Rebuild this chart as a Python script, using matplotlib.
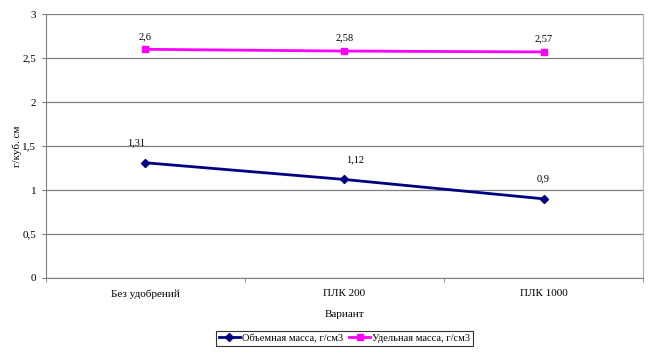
import matplotlib.pyplot as plt
import numpy as np

categories = ["Без удобрений", "ПЛК 200", "ПЛК 1000"]
bulk_mass = [1.31, 1.12, 0.9]
specific_mass = [2.6, 2.58, 2.57]
bulk_labels = ["1,31", "1,12", "0,9"]
specific_labels = ["2,6", "2,58", "2,57"]
yticks = [0, 0.5, 1, 1.5, 2, 2.5, 3]
ytick_labels = ["0", "0,5", "1", "1,5", "2", "2,5", "3"]

plt.rcParams['font.family'] = ['Liberation Serif', 'DejaVu Serif']
plt.rcParams['font.size'] = 8

fig = plt.figure(figsize=(6.57, 3.53), dpi=100)
ax = fig.add_axes([0.070, 0.2125, 0.9087, 0.7475])

x = np.arange(len(categories))
ax.plot(x, bulk_mass, color='#000080', marker='D', markersize=4, lw=2,
        label="Объемная масса, г/см3")
ax.plot(x, specific_mass, color='#FF00FF', marker='s', markersize=5, lw=2,
        label="Удельная масса, г/см3")

# excel-style data labels, nudged like in the original
bulk_dx = [-7, 8, 0]
for xi, v, t, dx in zip(x, bulk_mass, bulk_labels, bulk_dx):
    ax.annotate(t, (xi, v), xytext=(dx, 11), textcoords='offset points',
                ha='center', va='bottom', fontsize=7.5)
for xi, v, t in zip(x, specific_mass, specific_labels):
    ax.annotate(t, (xi, v), xytext=(0, 6), textcoords='offset points',
                ha='center', va='bottom', fontsize=7.5)

ax.set_xlim(-0.5, 2.5)
ax.set_ylim(0, 3)
ax.set_yticks(yticks)
ax.set_yticklabels(ytick_labels)
ax.set_xticks(x)
ax.set_xticklabels(categories)
ax.set_xticks([-0.5, 0.5, 1.5, 2.5], minor=True)
ax.tick_params(axis='x', which='major', length=0, pad=8)
ax.tick_params(axis='x', which='minor', length=3, color='#808080')
ax.tick_params(axis='y', length=3, color='#808080', pad=4)
ax.grid(axis='y', color='#808080', lw=0.9)
ax.set_axisbelow(True)
for side in ['left', 'bottom', 'right']:
    ax.spines[side].set_color('#808080')
ax.spines['top'].set_visible(False)
ax.spines['right'].set_color('#b0b0b0')

ax.set_ylabel("г/куб. см", labelpad=0)
ax.set_xlabel("Вариант", labelpad=8)

leg = ax.legend(loc='upper center', bbox_to_anchor=(0.5, -0.18), ncol=2,
                frameon=True, fancybox=False, edgecolor='black',
                handlelength=2.0, handletextpad=0.2, columnspacing=0.6,
                borderpad=0.3, fontsize=7.5)
leg.get_frame().set_linewidth(0.8)

fig.savefig("out.png", dpi=100)
